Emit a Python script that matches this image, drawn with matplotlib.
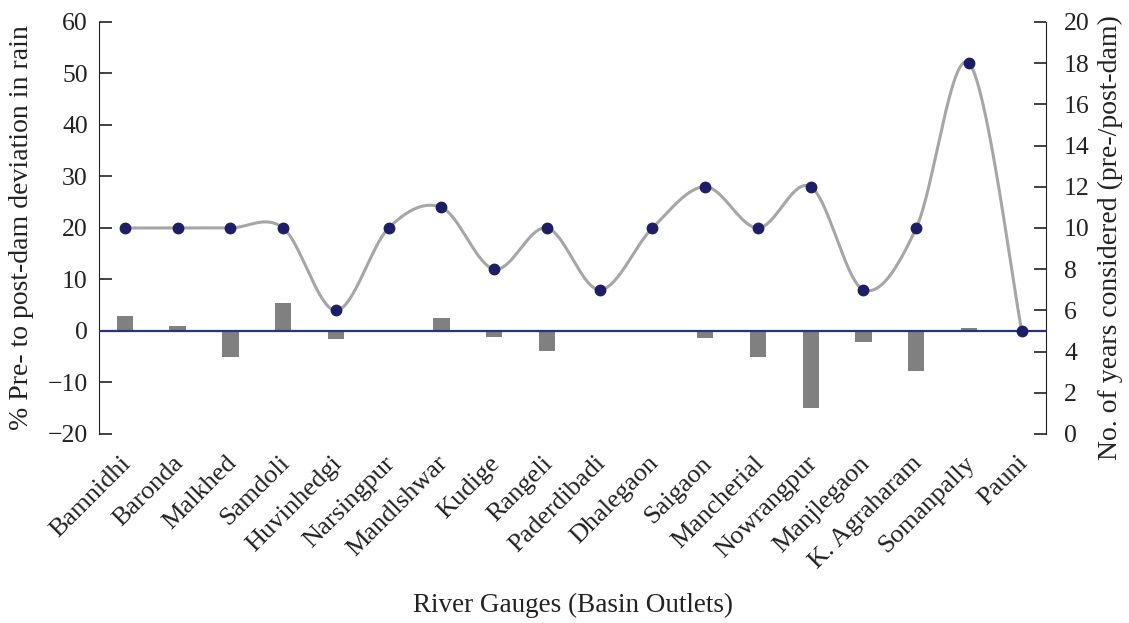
import numpy as np
import matplotlib
matplotlib.use("Agg")
import matplotlib.pyplot as plt
import matplotlib.transforms as mtransforms

categories = ["Bamnidhi", "Baronda", "Malkhed", "Samdoli", "Huvinhedgi", "Narsingpur",
              "Mandlshwar", "Kudige", "Rangeli", "Paderdibadi", "Dhalegaon", "Saigaon",
              "Mancherial", "Nowrangpur", "Manjlegaon", "K. Agraharam", "Somanpally", "Pauni"]
deviation = [3.0, 0.9, -5.0, 5.5, -1.6, 0.0, 2.5, -1.2, -3.8, 0.0, 0.0, -1.3,
             -5.1, -15.0, -2.2, -7.8, 0.6, 0.0]
years = [10, 10, 10, 10, 6, 10, 11, 8, 10, 7, 10, 12, 10, 12, 7, 10, 18, 5]

plt.rcParams['font.family'] = ['Liberation Serif', 'DejaVu Serif']

fig = plt.figure(figsize=(11.29, 6.23), dpi=100)
ax = fig.add_axes([0.0877, 0.3034, 0.8388, 0.6613])
ax2 = ax.twinx()

x = np.arange(len(categories))
ax.bar(x, deviation, width=0.31, color='#808080', zorder=2)
ax.axhline(0, color='#2b2f86', lw=1.6, zorder=3)

# Excel-style smoothed line (cardinal Bezier)
def smooth(xs, ys, n=40):
    P = np.column_stack([np.asarray(xs, float), np.asarray(ys, float)])
    P = np.vstack([P[0], P, P[-1]])
    out = []
    for i in range(1, len(P) - 2):
        p0, p1, p2, p3 = P[i-1], P[i], P[i+1], P[i+2]
        c1 = p1 + (p2 - p0) / 6.0
        c2 = p2 - (p3 - p1) / 6.0
        t = np.linspace(0, 1, n)[:, None]
        seg = ((1-t)**3) * p1 + 3*((1-t)**2)*t*c1 + 3*(1-t)*t**2*c2 + t**3*p2
        out.append(seg if i == 1 else seg[1:])
    out = np.vstack(out)
    return out[:, 0], out[:, 1]

sx, sy = smooth(x, years)
ax2.plot(sx, sy, color='#a6a6a6', lw=2.2, zorder=3, clip_on=False)
ax2.plot(x, years, 'o', color='#1c1f66', ms=7.5, zorder=4, clip_on=False)

ax.set_xlim(-0.49, 17.46)
ax.set_ylim(-20, 60)
ax2.set_ylim(0, 20)
ax.set_yticks(np.arange(-20, 61, 10))
ax2.set_yticks(np.arange(0, 21, 2))

for a in (ax, ax2):
    a.spines['top'].set_visible(False)
    a.spines['bottom'].set_visible(False)
ax.spines['right'].set_visible(False)
ax.spines['left'].set_color('#222222')
ax2.spines['right'].set_color('#222222')
ax2.spines['left'].set_visible(False)

ax.tick_params(axis='y', direction='in', length=9, width=1.2, pad=8, labelsize=18.5, colors='#222222')
ax2.tick_params(axis='y', direction='in', length=9, width=1.2, pad=13, labelsize=18.5, colors='#222222')

ax.set_xticks(x)
ax.set_xticklabels(categories, rotation=45, ha='right', rotation_mode='anchor', fontsize=19, color='#222222')
ax.tick_params(axis='x', length=0, pad=13)
offset = mtransforms.ScaledTranslation(-5/100, 0, fig.dpi_scale_trans)
for lab in ax.get_xticklabels():
    lab.set_transform(lab.get_transform() + offset)

ax.set_ylabel('% Pre- to post-dam deviation in rain', fontsize=20, color='#222222')
ax2.set_ylabel('No. of years considered (pre-/post-dam)', fontsize=20, color='#222222')
ax.yaxis.set_label_coords(22/1129, 1 - 228/623, transform=fig.transFigure)
ax2.yaxis.set_label_coords(1110/1129, 1 - 238/623, transform=fig.transFigure)
ax.yaxis.label.set_va('center')
ax2.yaxis.label.set_va('center')
fig.text(0.5075, 0.029, 'River Gauges (Basin Outlets)', ha='center', va='center', fontsize=19.5, color='#222222')

fig.savefig('out.png', dpi=100, facecolor='white')
